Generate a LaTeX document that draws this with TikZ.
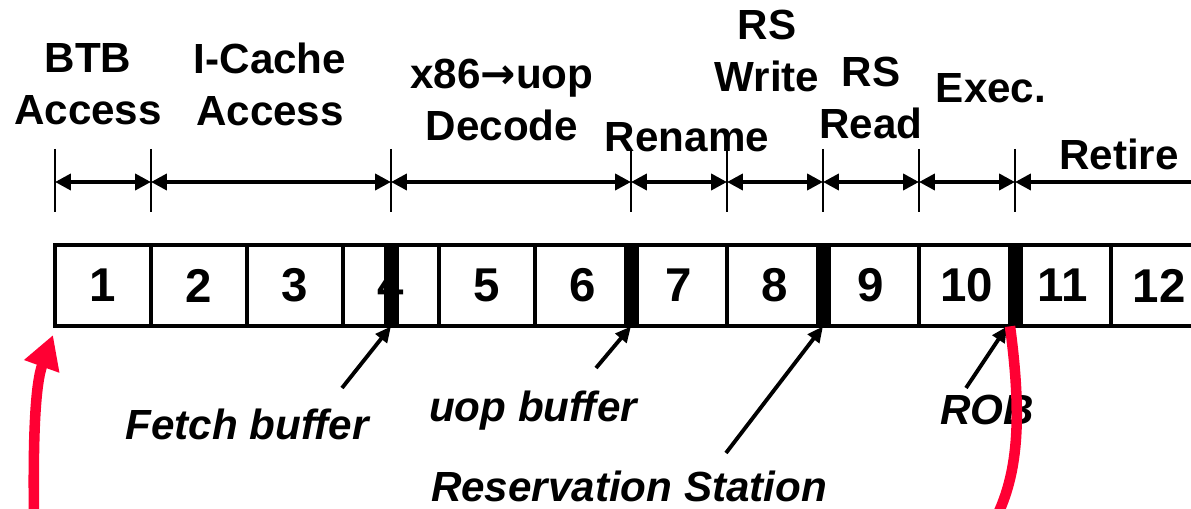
\documentclass[tikz,border=0pt]{standalone}
\usepackage{fontspec}
\setmainfont{Liberation Sans}
\newfontfamily\arrowfont{DejaVu Sans}
\usetikzlibrary{arrows.meta}
\definecolor{flushred}{RGB}{255,0,51}

\begin{document}
\begin{tikzpicture}[x=0.02cm, y=-0.02cm,
    stage/.style = {font=\fontsize{24}{29.6}\selectfont\bfseries, align=center, inner sep=0pt},
    buf/.style   = {font=\fontsize{24}{29}\selectfont\bfseries\itshape, inner sep=0pt, anchor=base},
    cell/.style  = {draw, line width=2.2pt, minimum width=1.92cm, minimum height=1.62cm,
                    inner sep=0pt, font=\fontsize{27}{32}\selectfont\bfseries},
    latch/.style = {fill=black, minimum width=0.3cm, minimum height=1.62cm, inner sep=0pt},
    tick/.style  = {line width=1.1pt},
    dim/.style   = {line width=2.2pt, {Triangle[length=9pt,width=9pt]}-{Triangle[length=9pt,width=9pt]}},
    ptr/.style   = {line width=2.2pt, -{Triangle[length=9pt,width=8pt]}},
    flush/.style = {line width=6pt, draw=flushred, -{Triangle[length=19pt,width=20pt]}}]
    \useasboundingbox (0,0) rectangle (1191,509);
    \node[stage] (btb)    at (88,  84)  {BTB\\Access};
    \node[stage] (icache) at (270, 84)  {I-Cache\\Access};
    \node[stage] (decode) at (502, 100) {x86{\arrowfont\bfseries →}uop\\Decode};
    \node[stage] (rename) at (687, 137) {Rename};
    \node[stage] (rswr)   at (767, 51)  {RS\\Write};
    \node[stage] (rsrd)   at (871, 98)  {RS\\Read};
    \node[stage] (exec)   at (991, 88)  {Exec.};
    \node[stage] (retire) at (1119,154) {Retire};
    \foreach \x [count=\k] in {55,151,391,631,727,823,919,1015} {
      \coordinate (t\k) at (\x,182);
      \draw[tick] (\x,149) -- (\x,212);
    }
    \coordinate (tend) at (1191,182);
    \foreach \a/\b in {1/2,2/3,3/4,4/5,5/6,6/7,7/8}
      \draw[dim] (t\a) -- (t\b);
    \draw[line width=2.2pt, {Triangle[length=9pt,width=9pt]}-] (t8) -- (tend);
    \foreach \i in {1,...,12}
      \node[cell] (c\i) at ({55+96*(\i-0.5)}, 285.5) {\i};
    \foreach \x [count=\k] in {391,631,823,1015}
      \node[latch] (b\k) at (\x, 285.5) {};
    \node[buf] (fetch) at (247, 440) {Fetch buffer};
    \node[buf] (uop)   at (533, 422) {uop buffer};
    \node[buf] (rs)    at (629, 502) {Reservation Station};
    \node[buf] (rob)   at (987, 425) {ROB};
    \coordinate (ftail) at (342, 388);
    \coordinate (utail) at (596, 368);
    \coordinate (rtail) at (726, 453);
    \coordinate (otail) at (966, 388);
    \draw[ptr] (ftail) -- (b1.south);
    \draw[ptr] (utail) -- (b2.south);
    \draw[ptr] (rtail) -- (b3.south);
    \draw[ptr] (otail) -- (b4.south west);
    \begin{scope}
      \clip (0,0) rectangle (1191,509);
      \draw[flush] ([xshift=-0.1cm]b4.south) .. controls (1024,430) and (1015,480) .. (995,520)
        .. controls (960,600) and (40,600) .. (34,515)
        .. controls (33,440) and (35,385) .. (53,335);
    \end{scope}
\end{tikzpicture}
\end{document}
